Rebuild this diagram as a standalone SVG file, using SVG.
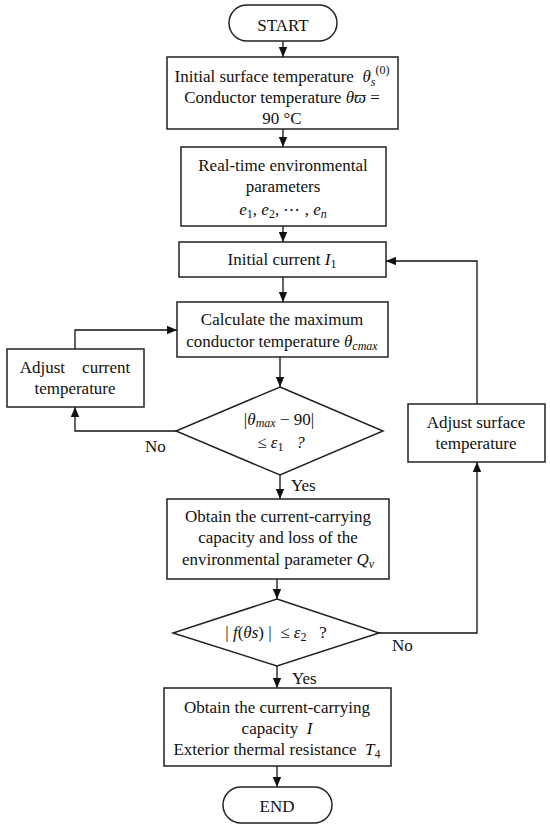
<svg xmlns="http://www.w3.org/2000/svg" width="550" height="829" viewBox="0 0 550 829">
<defs>
<marker id="arr" markerUnits="userSpaceOnUse" markerWidth="10" markerHeight="10" viewBox="0 0 10 10" refX="10" refY="5" orient="auto">
<path d="M0,0.8 L10,5 L0,9.2 Z" fill="#111"/>
</marker>
<style>
.b{fill:#fff;stroke:#222;stroke-width:1.5}
.t{font-family:"Liberation Serif","DejaVu Serif",serif;font-size:17px;fill:#111;text-anchor:middle}
.l{font-family:"Liberation Serif","DejaVu Serif",serif;font-size:17px;fill:#111}
.m{font-style:italic}
.s{font-size:12px}
.c{fill:none;stroke:#111;stroke-width:1.3;marker-end:url(#arr)}
.p{white-space:pre}
</style>
</defs>
<rect width="550" height="829" fill="#fff"/>
<g id="connectors">
<path class="c" d="M283,41 V57"/>
<path class="c" d="M283,129 V147"/>
<path class="c" d="M283,226 V242"/>
<path class="c" d="M283,277 V302"/>
<path class="c" d="M280,357 V387"/>
<path class="c" d="M280,475 V499"/>
<path class="c" d="M277,579 V599"/>
<path class="c" d="M277,666 V688"/>
<path class="c" d="M277,766 V787"/>
<path class="c" d="M75,349 V330 H177"/>
<path class="c" d="M176,431 H75 V407"/>
<path class="c" d="M379,633 H477 V462"/>
<path class="c" d="M477,404 V261 H386"/>
<text class="l" x="145" y="452">No</text>
<text class="l" x="291" y="491">Yes</text>
<text class="l" x="392" y="651">No</text>
<text class="l" x="292" y="684">Yes</text>
</g>
<g id="start">
<rect class="b" x="229" y="5" width="108" height="36" rx="18"/>
<text class="t" x="283" y="31">START</text>
</g>
<g id="init">
<rect class="b" x="167" y="57" width="231" height="72"/>
<text class="t" x="282" y="82" xml:space="preserve">Initial surface temperature  <tspan class="m">θ</tspan><tspan class="m s" dy="4">s</tspan><tspan class="s" dy="-12">(0)</tspan></text>
<text class="t" x="282" y="103">Conductor temperature <tspan class="m">θϖ</tspan> =</text>
<text class="t" x="282" y="124">90 °C</text>
</g>
<g id="env">
<rect class="b" x="181" y="147" width="205" height="79"/>
<text class="t" x="283" y="171">Real-time environmental</text>
<text class="t" x="283" y="192">parameters</text>
<text class="t" x="283" y="215"><tspan class="m">e</tspan><tspan class="s" dy="3">1</tspan><tspan dy="-3">, </tspan><tspan class="m">e</tspan><tspan class="s" dy="3">2</tspan><tspan dy="-3">, ⋯ , </tspan><tspan class="m">e</tspan><tspan class="m s" dy="3">n</tspan></text>
</g>
<g id="current">
<rect class="b" x="179" y="242" width="207" height="35"/>
<text class="t" x="282" y="265">Initial current <tspan class="m">I</tspan><tspan class="s" dy="3">1</tspan></text>
</g>
<g id="calc">
<rect class="b" x="177" y="302" width="211" height="55"/>
<text class="t" x="282" y="325">Calculate the maximum</text>
<text class="t" x="282" y="347">conductor temperature <tspan class="m">θ</tspan><tspan class="m s" dy="3">cmax</tspan></text>
</g>
<g id="adjust-current">
<rect class="b" x="7" y="349" width="137" height="58"/>
<text class="t p" x="75" y="373" xml:space="preserve">Adjust    current</text>
<text class="t" x="75" y="394">temperature</text>
</g>
<g id="check1">
<polygon class="b" points="280,387 383,431 280,475 176,431"/>
<text class="t" x="279" y="425">|<tspan class="m">θ</tspan><tspan class="m s" dy="2">max</tspan><tspan dy="-2"> − 90|</tspan></text>
<text class="t" x="281" y="448" xml:space="preserve">≤ <tspan class="m">ε</tspan><tspan class="s" dy="3">1</tspan><tspan class="m" dy="-3">   ?</tspan></text>
</g>
<g id="obtain-loss">
<rect class="b" x="167" y="499" width="222" height="80"/>
<text class="t" x="278" y="522">Obtain the current-carrying</text>
<text class="t" x="278" y="543">capacity and loss of the</text>
<text class="t" x="278" y="565">environmental parameter <tspan class="m">Q</tspan><tspan class="m s" dy="3">v</tspan></text>
</g>
<g id="check2">
<polygon class="b" points="277,599 379,633 277,666 173,633"/>
<text class="t" x="276" y="638" xml:space="preserve">| <tspan class="m">f</tspan>(<tspan class="m">θs</tspan>) |  ≤ <tspan class="m">ε</tspan><tspan class="s" dy="3">2</tspan><tspan dy="-3">   ?</tspan></text>
</g>
<g id="adjust-surface">
<rect class="b" x="408" y="404" width="137" height="58"/>
<text class="t" x="476" y="428">Adjust surface</text>
<text class="t" x="476" y="449">temperature</text>
</g>
<g id="obtain-capacity">
<rect class="b" x="164" y="688" width="227" height="78"/>
<text class="t" x="277" y="713">Obtain the current-carrying</text>
<text class="t" x="277" y="734" xml:space="preserve">capacity  <tspan class="m">I</tspan></text>
<text class="t" x="277" y="755" xml:space="preserve">Exterior thermal resistance  <tspan class="m">T</tspan><tspan class="s" dy="3">4</tspan></text>
</g>
<g id="end">
<rect class="b" x="223" y="787" width="109" height="36" rx="18"/>
<text class="t" x="277" y="812">END</text>
</g>
</svg>
